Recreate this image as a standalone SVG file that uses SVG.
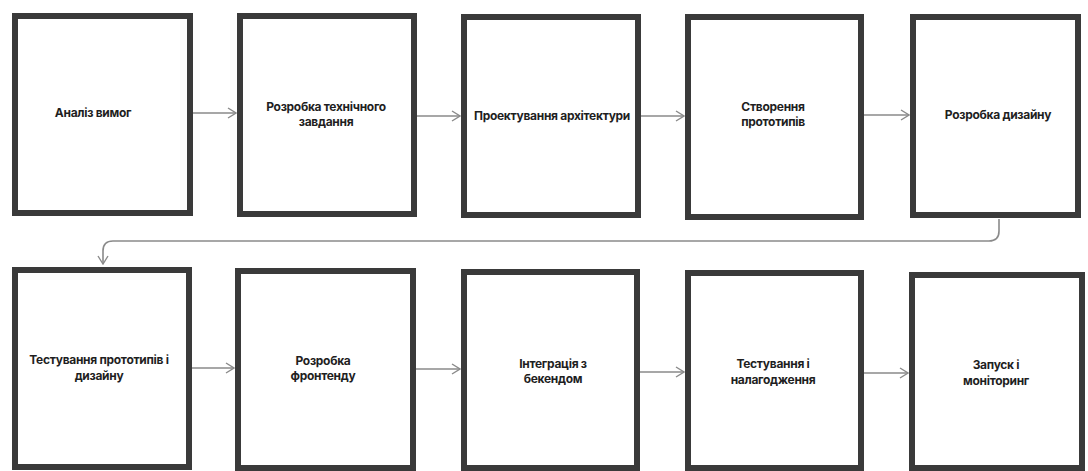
<svg xmlns="http://www.w3.org/2000/svg" width="1088" height="471" viewBox="0 0 1088 471">
  <style>
    .box { fill: #ffffff; stroke: #3a3a3a; stroke-width: 6; }
    .lbl { font-family: Inter, "Liberation Sans", "Noto Sans", sans-serif; font-size: 12px; font-weight: 700; fill: #1f1f1f; text-anchor: middle; letter-spacing: -0.3px; }
    .conn { fill: none; stroke: #8a8a8a; stroke-width: 1.6; marker-end: url(#chev); }
  </style>
  <defs>
    <marker id="chev" viewBox="0 0 10 12" refX="9" refY="6" markerWidth="10" markerHeight="12" markerUnits="userSpaceOnUse" orient="auto">
      <path d="M1,1 L9,6 L1,11" fill="none" stroke="#8a8a8a" stroke-width="1.4"/>
    </marker>
  </defs>
  <rect width="1088" height="471" fill="#ffffff"/>

  <g id="connectors">
    <line class="conn" x1="193" y1="113" x2="236" y2="113"/>
    <line class="conn" x1="417" y1="116" x2="460" y2="116"/>
    <line class="conn" x1="641" y1="116" x2="684" y2="116"/>
    <line class="conn" x1="864" y1="115" x2="909" y2="115"/>
    <path class="conn" d="M999,219 V231 Q999,241 989,241 H113 Q103,241 103,251 V264"/>
    <line class="conn" x1="192" y1="368" x2="234" y2="368"/>
    <line class="conn" x1="416" y1="369" x2="460" y2="369"/>
    <line class="conn" x1="640" y1="372" x2="684" y2="372"/>
    <line class="conn" x1="864" y1="373" x2="908" y2="373"/>
  </g>

  <g id="n1"><rect class="box" x="15" y="16" width="175" height="197"/>
    <text class="lbl" x="93" y="117">Аналіз вимог</text></g>
  <g id="n2"><rect class="box" x="240" y="16" width="174" height="198"/>
    <text class="lbl" x="326" y="111">Розробка технічного</text>
    <text class="lbl" x="326" y="126">завдання</text></g>
  <g id="n3"><rect class="box" x="464" y="17" width="174" height="198"/>
    <text class="lbl" x="552" y="120">Проектування архітектури</text></g>
  <g id="n4"><rect class="box" x="688" y="17" width="173" height="200"/>
    <text class="lbl" x="773" y="111">Створення</text>
    <text class="lbl" x="773" y="126">прототипів</text></g>
  <g id="n5"><rect class="box" x="913" y="17" width="165" height="198"/>
    <text class="lbl" x="998" y="119">Розробка дизайну</text></g>

  <g id="n6"><rect class="box" x="15" y="270" width="174" height="197"/>
    <text class="lbl" x="99" y="364">Тестування прототипів і</text>
    <text class="lbl" x="99" y="380">дизайну</text></g>
  <g id="n7"><rect class="box" x="238" y="271" width="175" height="197"/>
    <text class="lbl" x="323" y="365">Розробка</text>
    <text class="lbl" x="323" y="380">фронтенду</text></g>
  <g id="n8"><rect class="box" x="464" y="272" width="173" height="196"/>
    <text class="lbl" x="553" y="368">Інтеграція з</text>
    <text class="lbl" x="553" y="383">бекендом</text></g>
  <g id="n9"><rect class="box" x="688" y="273" width="173" height="195"/>
    <text class="lbl" x="773" y="368">Тестування і</text>
    <text class="lbl" x="773" y="384">налагодження</text></g>
  <g id="n10"><rect class="box" x="912" y="275" width="170" height="193"/>
    <text class="lbl" x="996" y="369">Запуск і</text>
    <text class="lbl" x="996" y="385">моніторинг</text></g>
</svg>
